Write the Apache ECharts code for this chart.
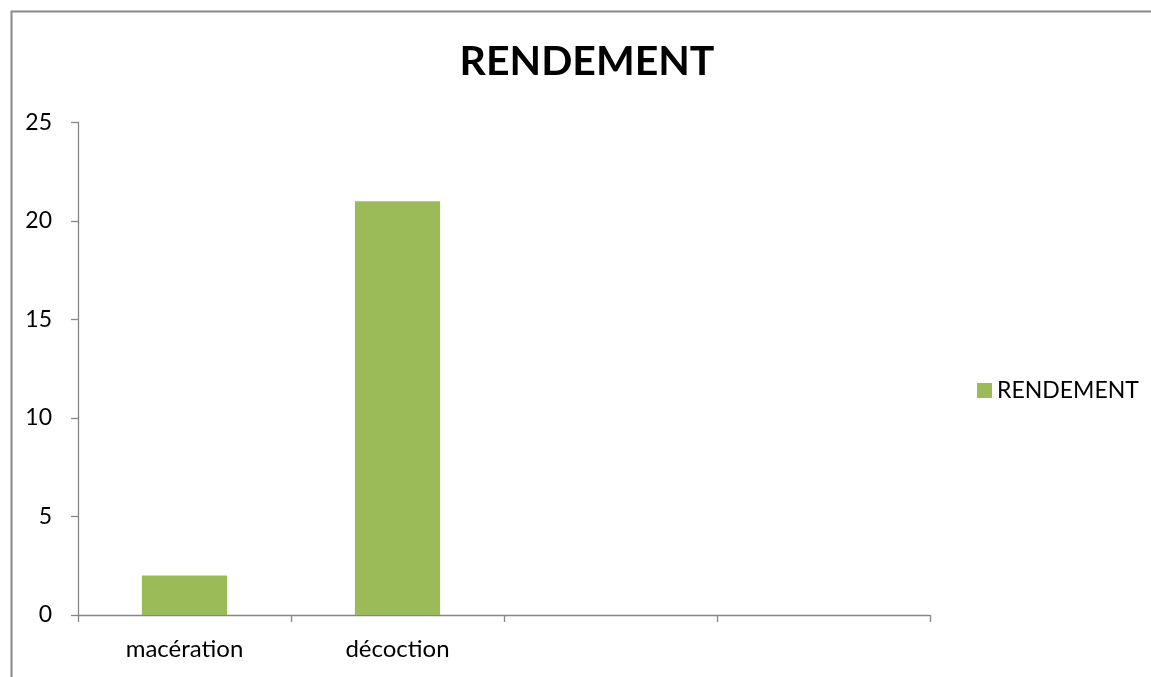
<!DOCTYPE html>
<html>
<head>
<meta charset="utf-8">
<script src="https://cdn.jsdelivr.net/npm/echarts@6/dist/echarts.min.js"></script>
<style>
  html, body { margin: 0; padding: 0; background: #ffffff; }
  #chart { width: 1151px; height: 677px; }
</style>
</head>
<body>
<div id="chart"></div>
<script>
// Extraction methods and their yield
const categories = ['macération', 'décoction', '', ''];
const rendement = [2, 21, null, null];
const seriesName = 'RENDEMENT';
const yTicks = { min: 0, max: 25, interval: 5 };

const FONT = 'Lato, "Open Sans", sans-serif';

const chart = echarts.init(document.getElementById('chart'), null, { renderer: 'canvas' });
chart.setOption({
  backgroundColor: '#ffffff',
  animation: false,
  title: {
    text: 'RENDEMENT',
    left: 582,
    top: 36,
    textAlign: 'center',
    textStyle: { fontFamily: FONT, fontWeight: 'bold', fontSize: 41, color: '#000' }
  },
  legend: {
    data: [seriesName],
    left: 972,
    top: 374,
    itemWidth: 15,
    itemHeight: 15,
    itemGap: 8,
    icon: 'rect',
    textStyle: { fontFamily: FONT, fontSize: 23, color: '#000' }
  },
  grid: { left: 78, right: 221, top: 122.5, bottom: 62 },
  xAxis: {
    type: 'category',
    data: categories,
    axisLine: { lineStyle: { color: '#868686', width: 1.3 } },
    axisTick: { show: true, alignWithLabel: false, length: 7, lineStyle: { color: '#868686', width: 1.3 } },
    axisLabel: { fontFamily: FONT, fontSize: 24, color: '#000', margin: 22 },
    splitLine: { show: false }
  },
  yAxis: {
    type: 'value',
    min: yTicks.min,
    max: yTicks.max,
    interval: yTicks.interval,
    axisLine: { show: true, lineStyle: { color: '#868686', width: 1.3 } },
    axisTick: { show: true, length: 7, lineStyle: { color: '#868686', width: 1.3 } },
    axisLabel: { fontFamily: FONT, fontSize: 23, color: '#000', margin: 26 },
    splitLine: { show: false }
  },
  series: [{
    name: seriesName,
    type: 'bar',
    data: rendement,
    barWidth: '40%',
    itemStyle: { color: '#9BBB59' }
  }],
  graphic: [{
    type: 'rect',
    left: 9,
    top: 9,
    shape: { width: 1200, height: 720 },
    style: { fill: 'none', stroke: '#878787', lineWidth: 2 },
    silent: true
  }]
});
</script>
</body>
</html>
